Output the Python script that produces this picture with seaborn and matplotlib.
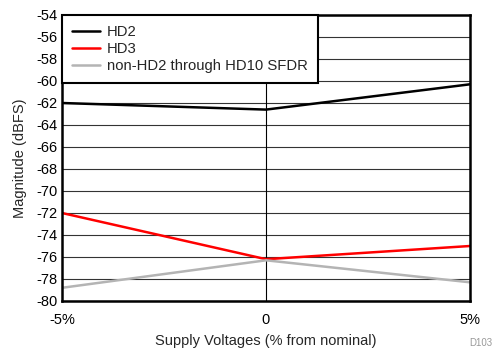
import matplotlib
matplotlib.use("Agg")
import matplotlib.pyplot as plt
import seaborn as sns
import pandas as pd

# Supply deviation (% from nominal) and measured distortion levels
supply_pct = [-5, 0, 5]
hd2 = [-62.0, -62.6, -60.3]
hd3 = [-72.0, -76.2, -75.0]
sfdr_other = [-78.8, -76.3, -78.3]

series_names = ["HD2", "HD3", "non-HD2 through HD10 SFDR"]
series_colors = ["#000000", "#ff0000", "#b4b4b4"]
x_tick_labels = ["-5%", "0", "5%"]
y_ticks = list(range(-80, -53, 2))

df = pd.concat([
    pd.DataFrame({"supply": supply_pct, "dBFS": vals, "series": name})
    for name, vals in zip(series_names, [hd2, hd3, sfdr_other])
])

sns.set_theme(style="white")
plt.rcParams["font.family"] = ["Liberation Sans", "DejaVu Sans"]

FS = 10.5

fig = plt.figure(figsize=(4.94, 3.49), dpi=100)
ax = fig.add_axes([62 / 494, 1 - 301 / 349, (470 - 62) / 494, (301 - 15) / 349])

sns.lineplot(data=df, x="supply", y="dBFS", hue="series",
             palette=dict(zip(series_names, series_colors)),
             hue_order=series_names, linewidth=1.8, ax=ax, zorder=3)

ax.set_xlim(-5, 5)
ax.set_ylim(-80, -54)
ax.set_xticks(supply_pct)
ax.set_xticklabels(x_tick_labels)
ax.set_yticks(y_ticks)
ax.set_yticklabels([str(v) for v in y_ticks])
ax.tick_params(axis="both", length=0, labelsize=FS, colors="black")
ax.tick_params(axis="x", pad=9)
ax.tick_params(axis="y", pad=3)

for v in y_ticks:
    ax.axhline(v, color="#333333", linewidth=0.8, zorder=1)
ax.axvline(0, color="black", linewidth=0.8, zorder=1)

for s in ax.spines.values():
    s.set_color("black")
    s.set_linewidth(1.8)
    s.set_zorder(5)

ax.set_xlabel("Supply Voltages (% from nominal)", fontsize=FS, labelpad=5)
ax.set_ylabel("Magnitude (dBFS)", fontsize=FS, labelpad=7)

leg = ax.legend(loc="upper left", fontsize=10.7, frameon=True, fancybox=False,
                borderaxespad=0, handlelength=1.9, handletextpad=0.45,
                labelspacing=0.2, borderpad=0.68)
leg.get_frame().set_edgecolor("black")
leg.get_frame().set_linewidth(1.5)
leg.get_frame().set_facecolor("white")
leg.get_frame().set_alpha(1)
leg.set_zorder(6)

fig.text(492 / 494, 1 - 343 / 349, "D103", fontsize=7, color="#999999",
         va="center", ha="right")

fig.savefig("out.png", dpi=100)
